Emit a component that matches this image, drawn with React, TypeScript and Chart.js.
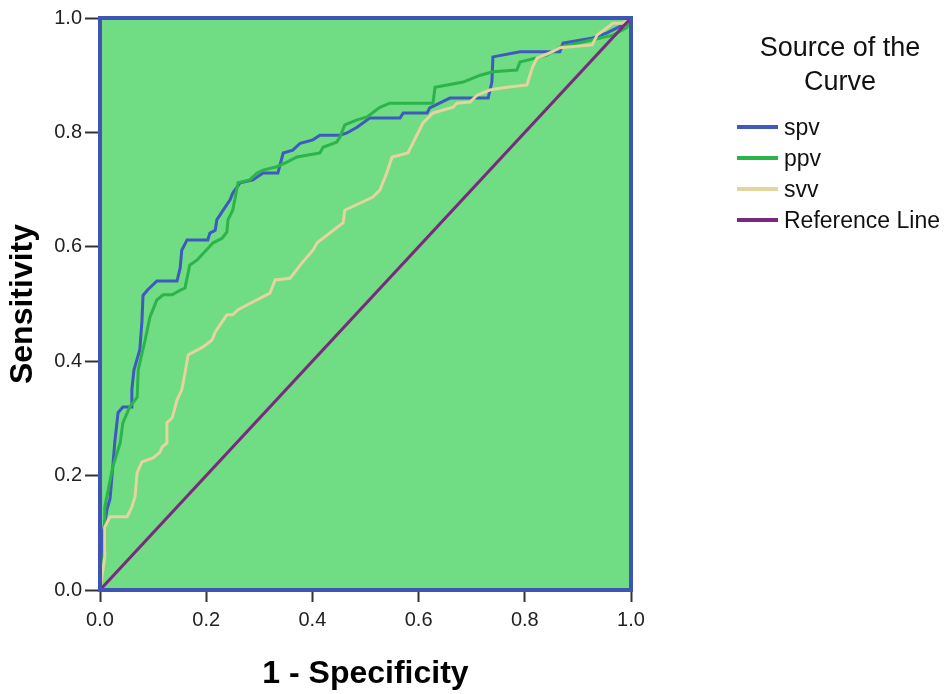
import React, { useEffect, useRef } from "react";
import { Chart, registerables } from "chart.js";

Chart.register(...registerables);

// ---- Data (1 - Specificity = x, Sensitivity = y) ----
const seriesNames = ["spv", "ppv", "svv", "Reference Line"];
const tickValues = [0, 0.2, 0.4, 0.6, 0.8, 1.0];

const spvX = [0, 0.002, 0.006, 0.013, 0.019, 0.028, 0.034, 0.043, 0.06, 0.06, 0.064, 0.075, 0.079, 0.081, 0.09, 0.107, 0.145, 0.151, 0.154, 0.164, 0.203, 0.207, 0.217, 0.22, 0.232, 0.245, 0.25, 0.264, 0.288, 0.307, 0.335, 0.345, 0.363, 0.377, 0.401, 0.414, 0.452, 0.465, 0.484, 0.508, 0.565, 0.571, 0.616, 0.621, 0.659, 0.731, 0.738, 0.74, 0.791, 0.866, 0.872, 0.928, 0.955, 0.992, 1];
const spvY = [0, 0.05, 0.1, 0.14, 0.16, 0.26, 0.31, 0.32, 0.32, 0.35, 0.385, 0.42, 0.47, 0.515, 0.525, 0.54, 0.54, 0.563, 0.594, 0.612, 0.612, 0.624, 0.629, 0.647, 0.664, 0.682, 0.694, 0.712, 0.717, 0.729, 0.729, 0.764, 0.769, 0.781, 0.787, 0.795, 0.795, 0.799, 0.809, 0.825, 0.825, 0.834, 0.834, 0.843, 0.86, 0.86, 0.888, 0.932, 0.941, 0.941, 0.956, 0.965, 0.974, 0.991, 1];

const ppvX = [0, 0.004, 0.009, 0.009, 0.024, 0.038, 0.043, 0.056, 0.07, 0.072, 0.085, 0.094, 0.107, 0.119, 0.136, 0.151, 0.16, 0.169, 0.183, 0.213, 0.23, 0.239, 0.241, 0.25, 0.26, 0.282, 0.296, 0.307, 0.333, 0.352, 0.371, 0.414, 0.42, 0.446, 0.452, 0.461, 0.484, 0.503, 0.527, 0.546, 0.627, 0.631, 0.684, 0.716, 0.74, 0.785, 0.791, 0.842, 0.866, 0.928, 0.966, 0.992, 1];
const ppvY = [0, 0.035, 0.07, 0.145, 0.215, 0.257, 0.292, 0.32, 0.337, 0.385, 0.437, 0.477, 0.507, 0.516, 0.516, 0.524, 0.528, 0.568, 0.577, 0.607, 0.615, 0.626, 0.647, 0.664, 0.712, 0.717, 0.729, 0.734, 0.74, 0.748, 0.757, 0.764, 0.774, 0.783, 0.792, 0.813, 0.822, 0.827, 0.844, 0.851, 0.851, 0.879, 0.888, 0.9, 0.906, 0.909, 0.923, 0.935, 0.949, 0.962, 0.97, 0.983, 1];

const svvX = [0, 0.009, 0.009, 0.019, 0.051, 0.06, 0.066, 0.07, 0.079, 0.1, 0.113, 0.117, 0.126, 0.126, 0.136, 0.145, 0.154, 0.16, 0.166, 0.194, 0.211, 0.217, 0.239, 0.25, 0.26, 0.32, 0.33, 0.358, 0.377, 0.401, 0.409, 0.458, 0.461, 0.514, 0.527, 0.54, 0.55, 0.58, 0.608, 0.627, 0.665, 0.672, 0.697, 0.71, 0.734, 0.759, 0.804, 0.814, 0.823, 0.847, 0.866, 0.927, 0.936, 0.955, 0.966, 0.985, 1];
const svvY = [0, 0.058, 0.11, 0.128, 0.128, 0.145, 0.163, 0.205, 0.224, 0.231, 0.241, 0.25, 0.257, 0.292, 0.301, 0.332, 0.35, 0.379, 0.411, 0.425, 0.437, 0.451, 0.481, 0.481, 0.49, 0.519, 0.542, 0.545, 0.568, 0.594, 0.607, 0.642, 0.664, 0.687, 0.699, 0.729, 0.757, 0.764, 0.816, 0.834, 0.844, 0.851, 0.853, 0.865, 0.874, 0.878, 0.883, 0.913, 0.93, 0.939, 0.948, 0.953, 0.97, 0.983, 0.991, 0.991, 1];

const refX = [0, 1];
const refY = [0, 1];

const seriesColors = ["#3f5abe", "#2cb34a", "#e4d49e", "#7a2a7d"];

const FONT = "'Liberation Sans', Arial, sans-serif";

const toPoints = (xs: number[], ys: number[]) => xs.map((x, i) => ({ x, y: ys[i] }));

const areaPlugin = {
  id: "areaPlugin",
  beforeDatasetsDraw(chart: any) {
    const { ctx, chartArea: a } = chart;
    ctx.save();
    ctx.fillStyle = "#70dc83";
    ctx.fillRect(a.left, a.top, a.right - a.left, a.bottom - a.top);
    ctx.restore();
  },
  afterDatasetsDraw(chart: any) {
    const { ctx, chartArea: a } = chart;
    ctx.save();
    ctx.strokeStyle = "#3f55b5";
    ctx.lineWidth = 4;
    ctx.strokeRect(a.left, a.top, a.right - a.left, a.bottom - a.top);
    ctx.restore();
  },
};

const legendPlugin = {
  id: "customLegend",
  afterDraw(chart: any) {
    const { ctx } = chart;
    ctx.save();
    ctx.fillStyle = "#111";
    ctx.textAlign = "center";
    ctx.textBaseline = "middle";
    ctx.font = `27px ${FONT}`;
    ctx.fillText("Source of the", 840, 49);
    ctx.fillText("Curve", 840, 83);
    const ys = [127, 158, 189, 220];
    ctx.font = `23px ${FONT}`;
    ctx.textAlign = "left";
    seriesNames.forEach((name, i) => {
      ctx.strokeStyle = seriesColors[i];
      ctx.lineWidth = 4;
      ctx.beginPath();
      ctx.moveTo(737, ys[i]);
      ctx.lineTo(778, ys[i]);
      ctx.stroke();
      ctx.fillStyle = "#111";
      ctx.fillText(name, 784, ys[i] + 2);
    });
    ctx.restore();
  },
};

export default function App() {
  const ref = useRef<HTMLCanvasElement | null>(null);

  useEffect(() => {
    if (!ref.current) return;
    const series = [
      toPoints(spvX, spvY),
      toPoints(ppvX, ppvY),
      toPoints(svvX, svvY),
      toPoints(refX, refY),
    ];
    const chart = new Chart(ref.current, {
      type: "line",
      data: {
        datasets: series.map((pts, i) => ({
          label: seriesNames[i],
          data: pts,
          borderColor: seriesColors[i],
          backgroundColor: seriesColors[i],
          borderWidth: 3,
          pointRadius: 0,
          tension: 0,
          fill: false,
          order: i === 3 ? 0 : 3 - i,
        })),
      },
      options: {
        animation: false,
        responsive: true,
        maintainAspectRatio: false,
        layout: { padding: { top: 18, right: 319, bottom: 0, left: 0 } },
        plugins: { legend: { display: false }, tooltip: { enabled: false } },
        scales: {
          x: {
            type: "linear",
            min: 0,
            max: 1,
            afterFit: (s: any) => {
              s.height = 104;
            },
            afterBuildTicks: (s: any) => {
              s.ticks = tickValues.map((v) => ({ value: v }));
            },
            ticks: {
              callback: (v: any) => Number(v).toFixed(1),
              font: { family: FONT, size: 20 },
              color: "#222",
              padding: 6,
              maxRotation: 0,
            },
            grid: {
              drawOnChartArea: false,
              drawTicks: true,
              tickLength: 12,
              tickColor: "#333",
              tickWidth: 2,
            },
            border: { display: false },
            title: {
              display: true,
              text: "1 - Specificity",
              font: { family: FONT, size: 32, weight: "bold" },
              color: "#000",
              padding: { top: 0, bottom: 1 },
            },
          },
          y: {
            type: "linear",
            min: 0,
            max: 1,
            afterFit: (s: any) => {
              s.width = 100;
            },
            afterBuildTicks: (s: any) => {
              s.ticks = tickValues.map((v) => ({ value: v }));
            },
            ticks: {
              callback: (v: any) => Number(v).toFixed(1),
              font: { family: FONT, size: 20 },
              color: "#222",
              padding: 3,
            },
            grid: {
              drawOnChartArea: false,
              drawTicks: true,
              tickLength: 15,
              tickColor: "#333",
              tickWidth: 2,
            },
            border: { display: false },
            title: {
              display: true,
              text: "Sensitivity",
              font: { family: FONT, size: 32, weight: "bold" },
              color: "#000",
              padding: { top: 4, bottom: 0 },
            },
          },
        },
      },
      plugins: [areaPlugin, legendPlugin],
    });
    return () => chart.destroy();
  }, []);

  return (
    <div style={{ position: "absolute", left: 0, top: 0, width: 950, height: 694, background: "#fff" }}>
      <canvas ref={ref} />
    </div>
  );
}
